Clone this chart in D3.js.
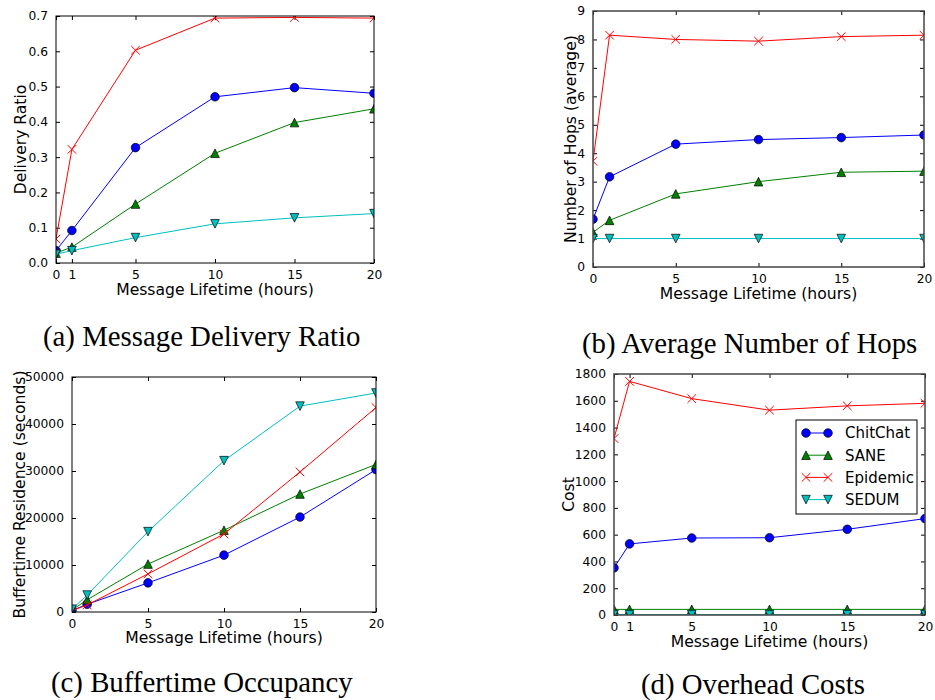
<!DOCTYPE html>
<html>
<head>
<meta charset="utf-8">
<script src="https://cdn.jsdelivr.net/npm/d3@7"></script>
<style>
  html, body { margin: 0; padding: 0; background: #fff; }
  svg { display: block; }
  .tick text { font-family: "DejaVu Sans", sans-serif; font-size: 12.3px; fill: #000; }
  .axis-label { font-family: "DejaVu Sans", sans-serif; font-size: 15.6px; fill: #000; }
  .caption { font-family: "Liberation Serif", "Times New Roman", serif; font-size: 28.8px; fill: #000; }
  .legend text { font-family: "DejaVu Sans", sans-serif; font-size: 15px; fill: #000; }
</style>
</head>
<body>
<svg id="chart" width="935" height="700"></svg>
<script>
// Message lifetime values (hours) on the x axis
const hours = [0, 1, 5, 10, 15, 20];
const seriesNames = ["ChitChat", "SANE", "Epidemic", "SEDUM"];

// Series values, one row per protocol in seriesNames order
const deliveryRatio = [
  [0.035, 0.092, 0.327, 0.471, 0.497, 0.481],
  [0.028, 0.045, 0.167, 0.311, 0.398, 0.437],
  [0.068, 0.322, 0.603, 0.694, 0.696, 0.694],
  [0.025, 0.035, 0.072, 0.111, 0.128, 0.140]
];
const hopCount = [
  [1.68, 3.17, 4.32, 4.48, 4.55, 4.64],
  [1.22, 1.64, 2.57, 3.00, 3.33, 3.37],
  [3.72, 8.15, 8.00, 7.94, 8.10, 8.15],
  [1.00, 1.00, 1.00, 1.00, 1.00, 1.00]
];
const bufferResidence = [
  [300, 1650, 6200, 12100, 20200, 30300],
  [400, 2600, 10200, 17400, 25100, 31400],
  [300, 1500, 8100, 16600, 29800, 43500],
  [600, 3600, 17100, 32200, 43800, 46600]
];
const overheadCost = [
  [352, 531, 575, 577, 640, 720],
  [42, 42, 42, 42, 42, 42],
  [1318, 1745, 1616, 1530, 1562, 1581],
  [3, 3, 3, 3, 3, 3]
];

// Tick values
const xTicksFine = [0, 1, 5, 10, 15, 20];
const xTicksCoarse = [0, 5, 10, 15, 20];
const ratioTicks = [0, 0.1, 0.2, 0.3, 0.4, 0.5, 0.6, 0.7];
const hopTicks = [0, 1, 2, 3, 4, 5, 6, 7, 8, 9];
const bufferTicks = [0, 10000, 20000, 30000, 40000, 50000];
const costTicks = [0, 200, 400, 600, 800, 1000, 1200, 1400, 1600, 1800];

const captions = ["(a) Message Delivery Ratio", "(b) Average Number of Hops",
                  "(c) Buffertime Occupancy", "(d) Overhead Costs"];

const colors = ["#0000ff", "#008000", "#ff0000", "#00bfbf"];
const markers = ["circle", "up", "cross", "down"];

const svg = d3.select("#chart");

function drawMarker(g, kind, color, x, y) {
  const s = 4.3;
  if (kind === "circle") {
    g.append("circle").attr("cx", x).attr("cy", y).attr("r", s)
      .attr("fill", color).attr("stroke", "#000").attr("stroke-width", 0.7);
  } else if (kind === "up") {
    g.append("path").attr("d", `M${x},${y - s}L${x + s},${y + s}L${x - s},${y + s}Z`)
      .attr("fill", color).attr("stroke", "#000").attr("stroke-width", 0.7);
  } else if (kind === "down") {
    g.append("path").attr("d", `M${x},${y + s}L${x + s},${y - s}L${x - s},${y - s}Z`)
      .attr("fill", color).attr("stroke", "#000").attr("stroke-width", 0.7);
  } else {
    g.append("path").attr("d", `M${x - s},${y - s}L${x + s},${y + s}M${x - s},${y + s}L${x + s},${y - s}`)
      .attr("fill", "none").attr("stroke", color).attr("stroke-width", 1);
  }
}

function panel(cfg, idx) {
  const { left, right, top, bottom } = cfg.box;
  const x = d3.scaleLinear().domain([0, 20]).range([left, right]);
  const y = d3.scaleLinear().domain(cfg.yDomain).range([bottom, top]);
  const g = svg.append("g");

  const clipId = "clip" + idx;
  g.append("clipPath").attr("id", clipId)
    .append("rect").attr("x", left).attr("y", top)
    .attr("width", right - left).attr("height", bottom - top);

  // Axes with inward ticks on all four sides
  const tl = 4;
  const xb = g.append("g").attr("transform", `translate(0,${bottom})`)
    .call(d3.axisBottom(x).tickValues(cfg.xTicks).tickSize(-tl).tickPadding(tl + 3).tickFormat(d3.format("d")));
  const xt = g.append("g").attr("transform", `translate(0,${top})`)
    .call(d3.axisTop(x).tickValues(cfg.xTicks).tickSize(-tl).tickFormat(""));
  const yl = g.append("g").attr("transform", `translate(${left},0)`)
    .call(d3.axisLeft(y).tickValues(cfg.yTicks).tickSize(-tl).tickPadding(tl + 4).tickFormat(cfg.yFormat));
  const yr = g.append("g").attr("transform", `translate(${right},0)`)
    .call(d3.axisRight(y).tickValues(cfg.yTicks).tickSize(-tl).tickFormat(""));
  [xb, xt, yl, yr].forEach(a => {
    a.select(".domain").remove();
    a.selectAll(".tick line").attr("stroke", "#000").attr("stroke-width", 1);
  });

  // Series
  const plot = g.append("g").attr("clip-path", `url(#${clipId})`);
  const line = d3.line().x((d, i) => x(hours[i])).y(d => y(d));
  cfg.data.forEach((vals, s) => {
    plot.append("path").datum(vals).attr("d", line)
      .attr("fill", "none").attr("stroke", colors[s]).attr("stroke-width", 1);
    vals.forEach((v, i) => drawMarker(plot, markers[s], colors[s], x(hours[i]), y(v)));
  });

  // Frame
  g.append("rect").attr("x", left).attr("y", top)
    .attr("width", right - left).attr("height", bottom - top)
    .attr("fill", "none").attr("stroke", cfg.frameColor).attr("stroke-width", cfg.frameWidth);

  // Axis labels
  g.append("text").attr("class", "axis-label")
    .attr("x", (left + right) / 2).attr("y", cfg.xLabelY)
    .attr("text-anchor", "middle").text("Message Lifetime (hours)");
  g.append("text").attr("class", "axis-label")
    .attr("transform", `translate(${cfg.yLabelX},${(top + bottom) / 2}) rotate(-90)`)
    .attr("text-anchor", "middle").text(cfg.yLabel);

  // Caption
  svg.append("text").attr("class", "caption")
    .attr("x", cfg.captionX).attr("y", cfg.captionY).text(captions[idx]);

  return { x, y, g };
}

const panels = [
  { box: { left: 56, right: 374, top: 16, bottom: 263 }, yDomain: [0, 0.7],
    xTicks: xTicksFine, yTicks: ratioTicks, yFormat: d3.format(".1f"),
    data: deliveryRatio, yLabel: "Delivery Ratio", xLabelY: 295, yLabelX: 26,
    captionX: 43, captionY: 346, frameColor: "#000", frameWidth: 1 },
  { box: { left: 593, right: 924, top: 11, bottom: 267 }, yDomain: [0, 9],
    xTicks: xTicksCoarse, yTicks: hopTicks, yFormat: d3.format("d"),
    data: hopCount, yLabel: "Number of Hops (average)", xLabelY: 299, yLabelX: 576,
    captionX: 582, captionY: 353, frameColor: "#444", frameWidth: 1.5 },
  { box: { left: 72, right: 376, top: 377, bottom: 612 }, yDomain: [0, 50000],
    xTicks: xTicksCoarse, yTicks: bufferTicks, yFormat: d3.format("d"),
    data: bufferResidence, yLabel: "Buffertime Residence (seconds)", xLabelY: 643, yLabelX: 25,
    captionX: 51, captionY: 692, frameColor: "#000", frameWidth: 1 },
  { box: { left: 614, right: 925, top: 374, bottom: 615 }, yDomain: [0, 1800],
    xTicks: xTicksFine, yTicks: costTicks, yFormat: d3.format("d"),
    data: overheadCost, yLabel: "Cost", xLabelY: 647, yLabelX: 574,
    captionX: 641, captionY: 694, frameColor: "#444", frameWidth: 1.5 }
];

panels.forEach((cfg, i) => panel(cfg, i));

// Legend inside the overhead-cost panel
const legend = svg.append("g").attr("class", "legend");
legend.append("rect").attr("x", 796).attr("y", 420).attr("width", 121).attr("height", 94)
  .attr("fill", "#fff").attr("stroke", "#000").attr("stroke-width", 1);
seriesNames.forEach((name, s) => {
  const ly = 433 + s * 22.2;
  legend.append("line").attr("x1", 806).attr("x2", 828).attr("y1", ly).attr("y2", ly)
    .attr("stroke", colors[s]).attr("stroke-width", 1);
  drawMarker(legend, markers[s], colors[s], 806, ly);
  drawMarker(legend, markers[s], colors[s], 828, ly);
  legend.append("text").attr("x", 845).attr("y", ly).attr("dy", "0.36em").text(name);
});
</script>
</body>
</html>
